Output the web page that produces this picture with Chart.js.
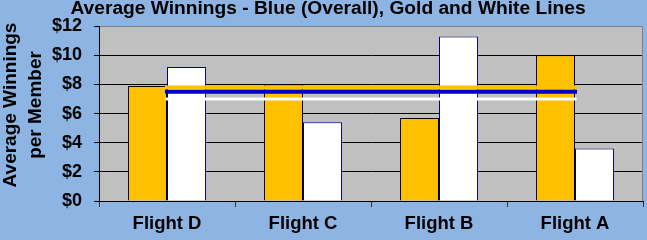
<!DOCTYPE html>
<html>
<head>
<meta charset="utf-8">
<script src="https://cdn.jsdelivr.net/npm/chart.js@4/dist/chart.umd.min.js"></script>
<style>
  html, body { margin: 0; padding: 0; background: #8DB4E2; }
  #wrap { width: 647px; height: 240px; }
</style>
</head>
<body>
<div id="wrap"><canvas id="c" width="647" height="240"></canvas></div>
<script>
const categories = ['Flight D', 'Flight C', 'Flight B', 'Flight A'];
const goldValues = [7.9, 8.0, 5.7, 10.0];
const whiteValues = [9.2, 5.4, 11.3, 3.6];
const goldLineValues = [7.8, 7.8, 7.8, 7.8];
const blueLineValues = [7.5, 7.5, 7.5, 7.5];
const whiteLineValues = [7.0, 7.0, 7.0, 7.0];
const yMin = 0, yMax = 12, yStep = 2;
const titleText = 'Average Winnings - Blue (Overall), Gold and White Lines';
const yTitleLines = ['Average Winnings', 'per Member'];

const FONT = "'Liberation Sans', Arial, sans-serif";

const bgPlugin = {
  id: 'bg',
  beforeDraw(chart) {
    const ctx = chart.ctx, a = chart.chartArea;
    ctx.save();
    ctx.fillStyle = '#8DB4E2';
    ctx.fillRect(0, 0, chart.width, chart.height);
    ctx.fillStyle = '#C0C0C0';
    ctx.fillRect(a.left, a.top, a.right - a.left, a.bottom - a.top);
    ctx.restore();
  },
  beforeDatasetsDraw(chart) {
    const ctx = chart.ctx, a = chart.chartArea;
    ctx.save();
    ctx.strokeStyle = '#808080';
    ctx.lineWidth = 1;
    ctx.beginPath();
    ctx.moveTo(Math.round(a.right) - 0.5, a.top);
    ctx.lineTo(Math.round(a.right) - 0.5, a.bottom);
    ctx.stroke();
    ctx.restore();
  },
  afterDraw(chart) {
    // vertical axis title (two lines, rotated), centred like the reference
    const ctx = chart.ctx;
    ctx.save();
    ctx.fillStyle = '#000';
    ctx.font = "bold 19px " + FONT;
    ctx.textAlign = 'center';
    ctx.textBaseline = 'alphabetic';
    const baselines = [15.8, 40.6];
    const cy = 105;
    yTitleLines.forEach((t, i) => {
      ctx.save();
      ctx.translate(baselines[i], cy);
      ctx.rotate(-Math.PI / 2);
      ctx.fillText(t, 0, 0);
      ctx.restore();
    });
    ctx.restore();
  }
};

new Chart(document.getElementById('c'), {
  type: 'bar',
  data: {
    labels: categories,
    datasets: [
      { type: 'line', label: 'Gold avg', data: goldLineValues, borderColor: '#FFC000', borderWidth: 4,
        pointRadius: 0, fill: false, borderCapStyle: 'square', order: 2 },
      { type: 'line', label: 'Overall avg', data: blueLineValues, borderColor: '#0000CC', borderWidth: 4,
        pointRadius: 0, fill: false, borderCapStyle: 'square', order: 1 },
      { type: 'line', label: 'White avg', data: whiteLineValues, borderColor: '#FFFFFF', borderWidth: 3,
        pointRadius: 0, fill: false, borderCapStyle: 'square', order: 0 },
      { label: 'Gold', data: goldValues, backgroundColor: '#FFC000', borderColor: '#000000', borderWidth: 1,
        categoryPercentage: 0.574, barPercentage: 1.0, order: 5 },
      { label: 'White', data: whiteValues, backgroundColor: '#FFFFFF', borderColor: '#000080', borderWidth: 1,
        categoryPercentage: 0.574, barPercentage: 1.0, order: 5 }
    ]
  },
  options: {
    responsive: false,
    devicePixelRatio: 1,
    animation: false,
    layout: { padding: { left: 13, right: 4, top: 0, bottom: 0 } },
    plugins: {
      legend: { display: false },
      tooltip: { enabled: false },
      title: {
        display: true,
        text: titleText,
        color: '#000',
        font: { family: FONT, size: 19.2, weight: 'bold', lineHeight: 1 },
        padding: { top: -1, bottom: 8 }
      }
    },
    scales: {
      x: {
        afterFit(scale) { scale.height = 39; },
        grid: { offset: true, drawOnChartArea: false, drawTicks: true, tickLength: 6, color: '#333', tickColor: '#333' },
        border: { display: true, color: '#000', width: 1 },
        ticks: { color: '#000', font: { family: FONT, size: 18.5, weight: 'bold' }, padding: 6, maxRotation: 0 }
      },
      y: {
        min: yMin, max: yMax,
        afterFit(scale) { scale.width = 86; },
        grid: {
          color: (c) => (c.tick && c.tick.value === yMax) ? '#808080' : '#000',
          tickColor: '#000', lineWidth: 1, drawTicks: true, tickLength: 5
        },
        border: { display: true, color: '#000', width: 1 },
        ticks: { stepSize: yStep, color: '#000', padding: 12,
          font: { family: FONT, size: 18, weight: 'bold' },
          callback: (v) => '$' + v },
        title: { display: false }
      }
    }
  },
  plugins: [bgPlugin]
});
</script>
</body>
</html>
